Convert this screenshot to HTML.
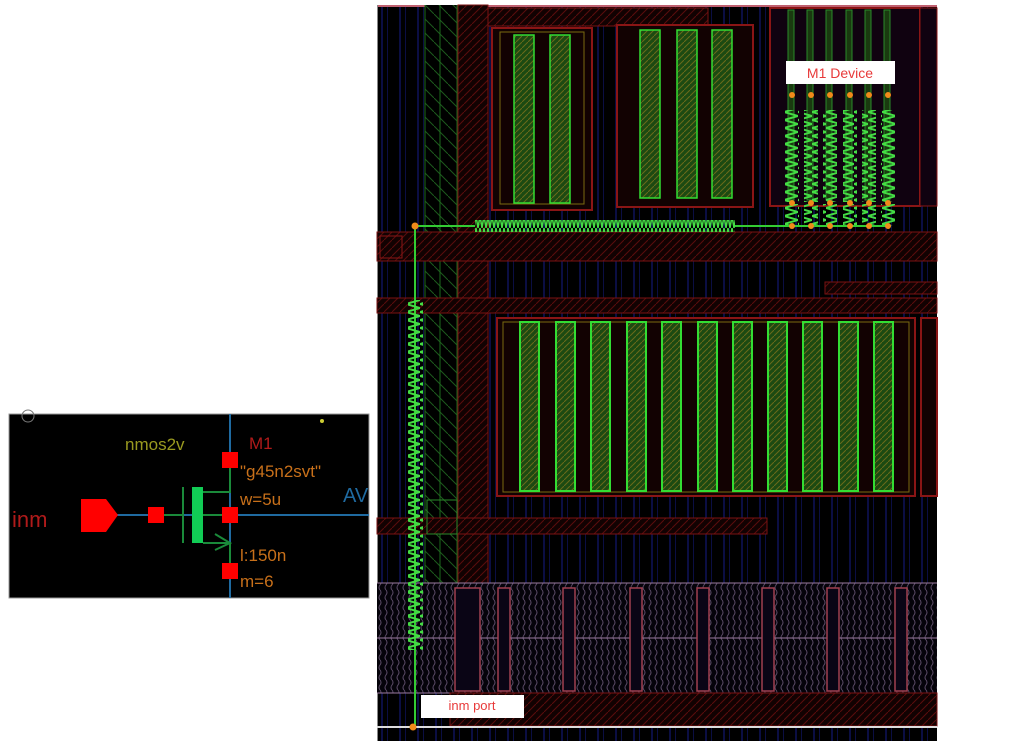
<!DOCTYPE html>
<html><head><meta charset="utf-8"><style>
html,body{margin:0;padding:0;background:#fff;width:1019px;height:752px;overflow:hidden}
svg{display:block}
</style></head><body>
<svg width="1019" height="752" viewBox="0 0 1019 752" xmlns="http://www.w3.org/2000/svg" font-family="Liberation Sans, sans-serif">
<defs>
<pattern id="rh" width="8" height="8" patternUnits="userSpaceOnUse"><rect width="8" height="8" fill="#120202"/><path d="M0 8L8 0" stroke="#5a0c0c" stroke-width="1"/></pattern>
<pattern id="gh" width="14" height="14" patternUnits="userSpaceOnUse"><rect width="14" height="14" fill="#000"/><path d="M0 0L14 14" stroke="#1d5a1d" stroke-width="1"/></pattern>
<pattern id="fh" width="6" height="6" patternUnits="userSpaceOnUse"><rect width="6" height="6" fill="#1c4a12"/><path d="M0 6L6 0" stroke="#6a6a1a" stroke-width="1"/></pattern>
<pattern id="ph" width="6" height="10" patternUnits="userSpaceOnUse"><rect width="6" height="10" fill="#05030a"/><path d="M2 0Q4 2.5 2 5T2 10" stroke="#5a4a66" fill="none" stroke-width="1"/></pattern>
<pattern id="zz" width="14" height="8" patternUnits="userSpaceOnUse"><path d="M0 0L14 4L0 8" stroke="#4d4" fill="none" stroke-width="2"/></pattern>
<pattern id="zh" width="4" height="12" patternUnits="userSpaceOnUse"><path d="M0 0L2 12L4 0" stroke="#4d4" fill="none" stroke-width="1.5"/></pattern>
<pattern id="bl" width="18" height="10" patternUnits="userSpaceOnUse"><rect x="3" width="2" height="10" fill="#141a7a"/><rect x="9" width="1" height="10" fill="#141a7a"/></pattern>
</defs>

<rect x="377" y="5" width="560" height="736" fill="#000"/>
<rect x="377" y="5" width="560" height="736" fill="url(#bl)" opacity="0.55"/>
<rect x="377" y="5" width="560" height="2" fill="#c06070"/>
<rect x="377" y="5" width="1" height="736" fill="#888"/>
<rect x="425" y="5" width="33" height="580" fill="url(#gh)"/>
<line x1="425" y1="5" x2="425" y2="585" stroke="#1d6a1d"/><line x1="440" y1="5" x2="440" y2="585" stroke="#1d6a1d"/><line x1="457" y1="5" x2="457" y2="585" stroke="#1d6a1d"/>
<rect x="458" y="5" width="30" height="720" fill="url(#rh)"/>
<rect x="458" y="5" width="30" height="720" fill="none" stroke="#7a1212"/>
<rect x="488" y="8" width="220" height="18" fill="url(#rh)" stroke="#7a1212"/>

<rect x="377" y="232" width="560" height="29" fill="url(#rh)" stroke="#7a1212"/>
<rect x="380" y="236" width="22" height="22" fill="none" stroke="#8a1515"/>
<rect x="377" y="298" width="560" height="15" fill="url(#rh)" stroke="#7a1212"/>
<rect x="825" y="282" width="112" height="12" fill="url(#rh)" stroke="#7a1212"/>
<rect x="377" y="518" width="390" height="16" fill="url(#rh)" stroke="#7a1212"/>
<rect x="427" y="500" width="30" height="34" fill="none" stroke="#2a8a2a"/>

<rect x="492" y="28" width="100" height="182" fill="#120202" stroke="#8a1515" stroke-width="2"/>
<rect x="500" y="32" width="84" height="172" fill="none" stroke="#7a6a10"/>
<rect x="514" y="35" width="20" height="168" fill="url(#fh)" stroke="#3d3" stroke-width="1.5"/>
<rect x="550" y="35" width="20" height="168" fill="url(#fh)" stroke="#3d3" stroke-width="1.5"/>
<rect x="617" y="25" width="136" height="182" fill="#120202" stroke="#8a1515" stroke-width="2"/>
<rect x="640" y="30" width="20" height="168" fill="url(#fh)" stroke="#3d3" stroke-width="1.5"/>
<rect x="677" y="30" width="20" height="168" fill="url(#fh)" stroke="#3d3" stroke-width="1.5"/>
<rect x="712" y="30" width="20" height="168" fill="url(#fh)" stroke="#3d3" stroke-width="1.5"/>
<rect x="770" y="8" width="150" height="198" fill="#100210" stroke="#8a1515" stroke-width="2"/>
<rect x="920" y="8" width="17" height="198" fill="#100210" stroke="#8a1515"/>
<g fill="#1a3a10" stroke="#2a8a2a">
<rect x="788" y="10" width="6" height="190"/><rect x="807" y="10" width="6" height="190"/><rect x="826" y="10" width="6" height="190"/><rect x="846" y="10" width="6" height="190"/><rect x="865" y="10" width="6" height="190"/><rect x="884" y="10" width="6" height="190"/>
</g>
<g fill="url(#zz)">
<rect x="785" y="110" width="14" height="92"/><rect x="804" y="110" width="14" height="92"/><rect x="823" y="110" width="14" height="92"/><rect x="843" y="110" width="14" height="92"/><rect x="862" y="110" width="14" height="92"/><rect x="881" y="110" width="14" height="92"/>
<rect x="785" y="204" width="14" height="22"/><rect x="804" y="204" width="14" height="22"/><rect x="823" y="204" width="14" height="22"/><rect x="843" y="204" width="14" height="22"/><rect x="862" y="204" width="14" height="22"/><rect x="881" y="204" width="14" height="22"/>
</g>
<line x1="735" y1="226" x2="891" y2="226" stroke="#3c3" stroke-width="2"/>
<g fill="#f08a1a">
<circle cx="792" cy="95" r="3"/><circle cx="811" cy="95" r="3"/><circle cx="830" cy="95" r="3"/><circle cx="850" cy="95" r="3"/><circle cx="869" cy="95" r="3"/><circle cx="888" cy="95" r="3"/>
<circle cx="792" cy="203" r="3"/><circle cx="811" cy="203" r="3"/><circle cx="830" cy="203" r="3"/><circle cx="850" cy="203" r="3"/><circle cx="869" cy="203" r="3"/><circle cx="888" cy="203" r="3"/>
<circle cx="792" cy="226" r="3"/><circle cx="811" cy="226" r="3"/><circle cx="830" cy="226" r="3"/><circle cx="850" cy="226" r="3"/><circle cx="869" cy="226" r="3"/><circle cx="888" cy="226" r="3"/>
</g>
<rect x="786" y="61" width="109" height="23" fill="#fff"/>
<text x="840" y="78" font-size="14" fill="#e83a3a" text-anchor="middle">M1 Device</text>

<rect x="497" y="318" width="418" height="178" fill="#120202" stroke="#8a1515" stroke-width="2"/>
<rect x="503" y="322" width="406" height="170" fill="none" stroke="#7a6a10"/>
<rect x="921" y="318" width="16" height="178" fill="#120202" stroke="#8a1515" stroke-width="2"/>
<g fill="url(#fh)" stroke="#3d3" stroke-width="2">
<rect x="520" y="322" width="19" height="169"/><rect x="556" y="322" width="19" height="169"/><rect x="591" y="322" width="19" height="169"/><rect x="627" y="322" width="19" height="169"/><rect x="662" y="322" width="19" height="169"/><rect x="698" y="322" width="19" height="169"/><rect x="733" y="322" width="19" height="169"/><rect x="768" y="322" width="19" height="169"/><rect x="803" y="322" width="19" height="169"/><rect x="839" y="322" width="19" height="169"/><rect x="874" y="322" width="19" height="169"/>
</g>

<rect x="377" y="583" width="560" height="110" fill="url(#ph)"/>
<line x1="377" y1="583" x2="937" y2="583" stroke="#9a7aa0"/><line x1="377" y1="638" x2="937" y2="638" stroke="#9a7aa0"/><line x1="377" y1="693" x2="937" y2="693" stroke="#9a7aa0"/>
<g fill="#0a0515" stroke="#a04050" stroke-width="1.5">
<rect x="455" y="588" width="25" height="103"/><rect x="498" y="588" width="12" height="103"/><rect x="563" y="588" width="12" height="103"/><rect x="630" y="588" width="12" height="103"/><rect x="697" y="588" width="12" height="103"/><rect x="762" y="588" width="12" height="103"/><rect x="827" y="588" width="12" height="103"/><rect x="895" y="588" width="12" height="103"/>
</g>
<rect x="450" y="693" width="487" height="33" fill="url(#rh)" stroke="#7a1212"/>
<line x1="377" y1="727" x2="937" y2="727" stroke="#ddd" stroke-width="2"/>

<line x1="415" y1="226" x2="475" y2="226" stroke="#3c3" stroke-width="2"/>
<rect x="475" y="220" width="260" height="12" fill="url(#zh)"/>
<line x1="415" y1="226" x2="415" y2="727" stroke="#3c3" stroke-width="2"/>
<rect x="408" y="300" width="15" height="350" fill="url(#zz)"/>
<circle cx="415" cy="226" r="3.5" fill="#f08a1a"/>
<circle cx="413" cy="727" r="3.5" fill="#f08a1a"/>
<rect x="421" y="695" width="103" height="23" fill="#fff"/>
<text x="472" y="710" font-size="13" fill="#e83a3a" text-anchor="middle">inm port</text>

<rect x="9" y="414" width="360" height="184" fill="#000" stroke="#999"/>
<line x1="230" y1="414" x2="230" y2="598" stroke="#1f6aa0" stroke-width="2"/>
<line x1="117" y1="515" x2="369" y2="515" stroke="#1f6aa0" stroke-width="2"/>
<polygon points="81,499 106,499 118,515 106,532 81,532" fill="#f00"/>
<line x1="164" y1="515" x2="183" y2="515" stroke="#1a8a3a" stroke-width="2"/>
<line x1="183" y1="487" x2="183" y2="543" stroke="#1a8a3a" stroke-width="2"/>
<rect x="192" y="487" width="11" height="56" fill="#1c5"/>
<path d="M203 492H230V462M203 515H222M203 543H230V570M215 534L230 543L215 550" stroke="#1a8a3a" stroke-width="2" fill="none"/>
<g fill="#f00">
<rect x="148" y="507" width="16" height="16"/><rect x="222" y="452" width="16" height="16"/><rect x="222" y="507" width="16" height="16"/><rect x="222" y="563" width="16" height="16"/>
</g>
<circle cx="28" cy="416" r="6" fill="none" stroke="#777"/>
<circle cx="322" cy="421" r="2" fill="#cc3"/>
<g font-size="17">
<text x="125" y="450" fill="#9a9a20">nmos2v</text>
<text x="249" y="449" fill="#b01a1a">M1</text>
<text x="240" y="477" fill="#c8701a">"g45n2svt"</text>
<text x="240" y="505" fill="#c8701a">w=5u</text>
<text x="240" y="561" fill="#c8701a">l:150n</text>
<text x="240" y="587" fill="#c8701a">m=6</text>
<text x="343" y="502" fill="#1f6aa0" font-size="20">AV</text>
<text x="12" y="527" fill="#b01a1a" font-size="22">inm</text>
</g>
</svg>
</body></html>
